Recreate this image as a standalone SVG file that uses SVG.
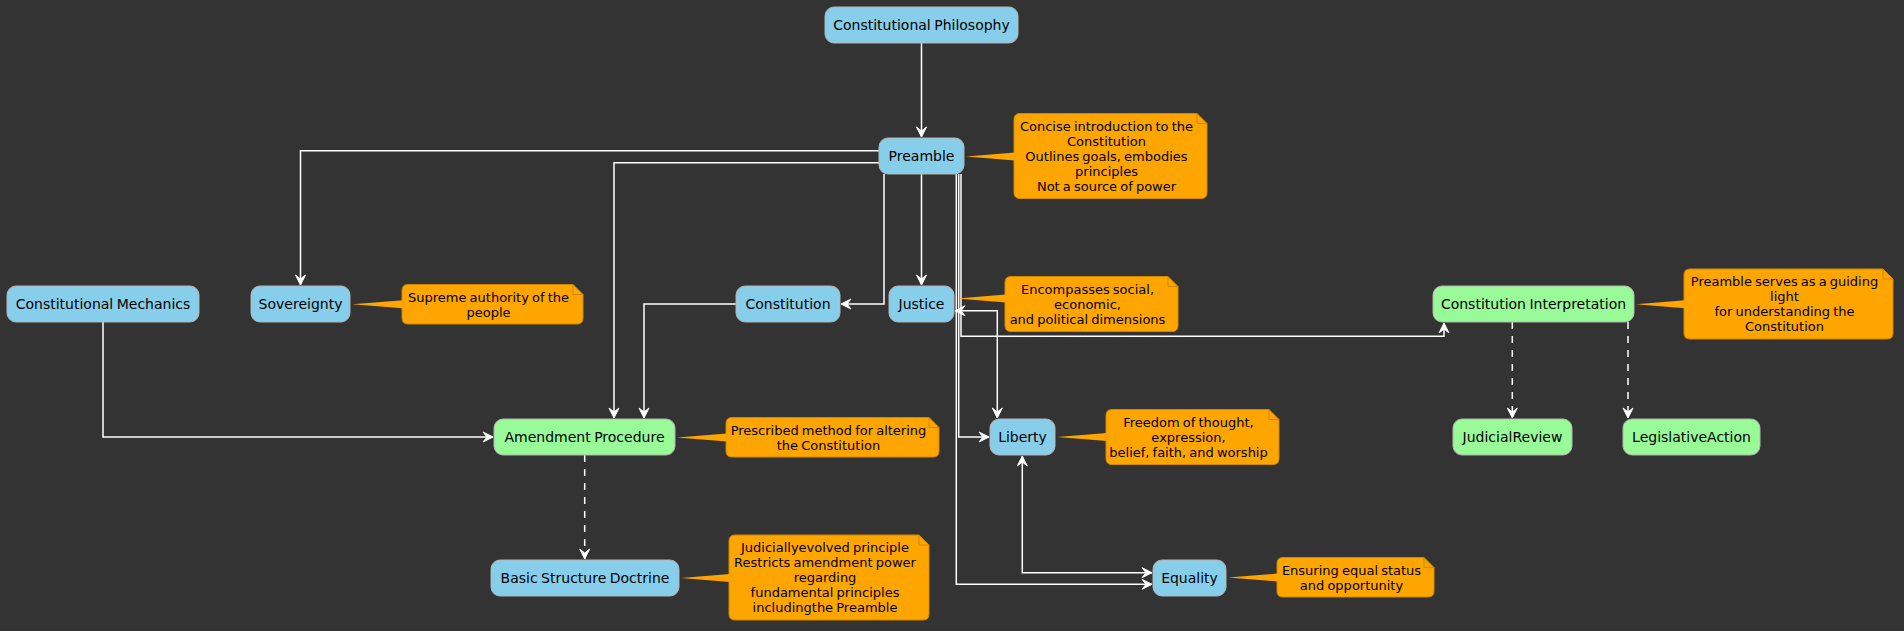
<svg xmlns="http://www.w3.org/2000/svg" width="1904" height="631" viewBox="0 0 1904 631">
<defs>
<style>
.bg{fill:#333333}
.node rect{stroke:#b4b4b4;stroke-width:1}
.blue{fill:#87CEEB}
.green{fill:#98FB98}
.node text{font-family:"DejaVu Sans","Liberation Sans",sans-serif;font-size:14px;fill:#000;text-anchor:middle;word-spacing:-1px}
.note path{fill:#FFA500;stroke:#d08800;stroke-width:1}
.note path.fold{fill:none}
.note polygon{fill:#FFA500;stroke:none}
.note text{font-family:"DejaVu Sans","Liberation Sans",sans-serif;font-size:13px;fill:#000;text-anchor:middle;word-spacing:-1px}
.edge{fill:none;stroke:#ffffff;stroke-width:1.5}
.dash{stroke-dasharray:7,7}
</style>
<marker id="arr" markerUnits="userSpaceOnUse" markerWidth="14" markerHeight="12" viewBox="-11 -6 12 12" refX="0" refY="0" orient="auto-start-reverse">
<path d="M0,0 L-10,-5 L-6,0 L-10,5 Z" fill="#ffffff" stroke="#ffffff" stroke-width="1" stroke-linejoin="miter"/>
</marker>
</defs>
<rect class="bg" x="0" y="0" width="1904" height="631"/>

<g id="connectors">
<path class="edge" d="M921.5,43 V137" marker-end="url(#arr)"/>
<path class="edge" d="M879,150.7 H300.5 V285" marker-end="url(#arr)"/>
<path class="edge" d="M879,162.7 H614 V418" marker-end="url(#arr)"/>
<path class="edge" d="M884,174 V304 H841" marker-end="url(#arr)"/>
<path class="edge" d="M921.5,174 V285" marker-end="url(#arr)"/>
<path class="edge" d="M958.7,174 V437 H989" marker-end="url(#arr)"/>
<path class="edge" d="M956.3,174 V584.3 H1152" marker-end="url(#arr)"/>
<path class="edge" d="M961,174 V336.3 H1444 V323" marker-end="url(#arr)"/>
<path class="edge" d="M955,310.7 H997.3 V418" marker-start="url(#arr)" marker-end="url(#arr)"/>
<path class="edge" d="M1022.3,456 V572.7 H1152" marker-start="url(#arr)" marker-end="url(#arr)"/>
<path class="edge" d="M736,304 H644 V418" marker-end="url(#arr)"/>
<path class="edge" d="M103,322 V437 H493" marker-end="url(#arr)"/>
<path class="edge dash" d="M584.7,455 V559" marker-end="url(#arr)"/>
<path class="edge dash" d="M1512.3,322 V418" marker-end="url(#arr)"/>
<path class="edge dash" d="M1628,322 V418" marker-end="url(#arr)"/>
</g>

<g id="node-constitutional-philosophy" class="node"><rect class="blue" x="825" y="7" width="193" height="36" rx="9"/><text x="921.5" y="30">Constitutional Philosophy</text></g>
<g id="node-preamble" class="node"><rect class="blue" x="879" y="138" width="85" height="36" rx="9"/><text x="921.5" y="161">Preamble</text></g>
<g id="node-constitutional-mechanics" class="node"><rect class="blue" x="7" y="286" width="192" height="36" rx="9"/><text x="103" y="309">Constitutional Mechanics</text></g>
<g id="node-sovereignty" class="node"><rect class="blue" x="251" y="286" width="99" height="36" rx="9"/><text x="300.5" y="309">Sovereignty</text></g>
<g id="node-constitution" class="node"><rect class="blue" x="736" y="286" width="104" height="36" rx="9"/><text x="788" y="309">Constitution</text></g>
<g id="node-justice" class="node"><rect class="blue" x="889" y="286" width="65" height="36" rx="9"/><text x="921.5" y="309">Justice</text></g>
<g id="node-constitution-interpretation" class="node"><rect class="green" x="1433" y="286" width="201" height="36" rx="9"/><text x="1533.5" y="309">Constitution Interpretation</text></g>
<g id="node-amendment-procedure" class="node"><rect class="green" x="494" y="419" width="181" height="36" rx="9"/><text x="584.5" y="442">Amendment Procedure</text></g>
<g id="node-liberty" class="node"><rect class="blue" x="990" y="419" width="65" height="36" rx="9"/><text x="1022.5" y="442">Liberty</text></g>
<g id="node-judicial-review" class="node"><rect class="green" x="1453" y="419" width="119" height="36" rx="9"/><text x="1512.5" y="442">JudicialReview</text></g>
<g id="node-legislative-action" class="node"><rect class="green" x="1623" y="419" width="137" height="36" rx="9"/><text x="1691.5" y="442">LegislativeAction</text></g>
<g id="node-basic-structure-doctrine" class="node"><rect class="blue" x="491" y="560" width="188" height="36" rx="9"/><text x="585" y="583">Basic Structure Doctrine</text></g>
<g id="node-equality" class="node"><rect class="blue" x="1153" y="560" width="73" height="36" rx="9"/><text x="1189.5" y="583">Equality</text></g>

<g id="note-preamble" class="note">
<path d="M1020,113.5 H1197 L1207,123.5 V192.5 Q1207,198.5 1201,198.5 H1020 Q1014,198.5 1014,192.5 V119.5 Q1014,113.5 1020,113.5 Z"/>
<polygon points="966,156.5 1014.8,152.5 1014.8,160.5"/>
<path class="fold" d="M1197,113.5 V123.5 H1207"/>
<text x="1106.5" y="130.5">Concise introduction to the</text>
<text x="1106.5" y="145.5">Constitution</text>
<text x="1106.5" y="160.5">Outlines goals, embodies</text>
<text x="1106.5" y="175.5">principles</text>
<text x="1106.5" y="190.5">Not a source of power</text>
</g>
<g id="note-sovereignty" class="note">
<path d="M408,284.5 H573 L583,294.5 V318 Q583,324 577,324 H408 Q402,324 402,318 V290.5 Q402,284.5 408,284.5 Z"/>
<polygon points="352,304.3 402.8,300.3 402.8,308.3"/>
<path class="fold" d="M573,284.5 V294.5 H583"/>
<text x="488.5" y="301.5">Supreme authority of the</text>
<text x="488.5" y="316.5">people</text>
</g>
<g id="note-justice" class="note">
<path d="M1011,276.5 H1168 L1178,286.5 V325.5 Q1178,331.5 1172,331.5 H1011 Q1005,331.5 1005,325.5 V282.5 Q1005,276.5 1011,276.5 Z"/>
<polygon points="957,298.5 1005.8,294.5 1005.8,302.5"/>
<path class="fold" d="M1168,276.5 V286.5 H1178"/>
<text x="1087.5" y="293.5">Encompasses social,</text>
<text x="1087.5" y="308.5">economic,</text>
<text x="1087.5" y="323.5">and political dimensions</text>
</g>
<g id="note-constitution-interpretation" class="note">
<path d="M1690,269 H1883 L1893,279 V333 Q1893,339 1887,339 H1690 Q1684,339 1684,333 V275 Q1684,269 1690,269 Z"/>
<polygon points="1636,304.3 1684.8,300.3 1684.8,308.3"/>
<path class="fold" d="M1883,269 V279 H1893"/>
<text x="1784.5" y="286">Preamble serves as a guiding</text>
<text x="1784.5" y="301">light</text>
<text x="1784.5" y="316">for understanding the</text>
<text x="1784.5" y="331">Constitution</text>
</g>
<g id="note-amendment-procedure" class="note">
<path d="M732,417.5 H929 L939,427.5 V451 Q939,457 933,457 H732 Q726,457 726,451 V423.5 Q726,417.5 732,417.5 Z"/>
<polygon points="677,437.5 726.8,433.5 726.8,441.5"/>
<path class="fold" d="M929,417.5 V427.5 H939"/>
<text x="828.5" y="434.5">Prescribed method for altering</text>
<text x="828.5" y="449.5">the Constitution</text>
</g>
<g id="note-liberty" class="note">
<path d="M1112,409.5 H1269 L1279,419.5 V458.5 Q1279,464.5 1273,464.5 H1112 Q1106,464.5 1106,458.5 V415.5 Q1106,409.5 1112,409.5 Z"/>
<polygon points="1057,437 1106.8,433 1106.8,441"/>
<path class="fold" d="M1269,409.5 V419.5 H1279"/>
<text x="1188.5" y="426.5">Freedom of thought,</text>
<text x="1188.5" y="441.5">expression,</text>
<text x="1188.5" y="456.5">belief, faith, and worship</text>
</g>
<g id="note-basic-structure-doctrine" class="note">
<path d="M735,535 H919 L929,545 V614 Q929,620 923,620 H735 Q729,620 729,614 V541 Q729,535 735,535 Z"/>
<polygon points="681,578 729.8,574 729.8,582"/>
<path class="fold" d="M919,535 V545 H929"/>
<text x="825" y="552">Judiciallyevolved principle</text>
<text x="825" y="567">Restricts amendment power</text>
<text x="825" y="582">regarding</text>
<text x="825" y="597">fundamental principles</text>
<text x="825" y="612">includingthe Preamble</text>
</g>
<g id="note-equality" class="note">
<path d="M1283,557.5 H1424 L1434,567.5 V591 Q1434,597 1428,597 H1283 Q1277,597 1277,591 V563.5 Q1277,557.5 1283,557.5 Z"/>
<polygon points="1228,577.5 1277.8,573.5 1277.8,581.5"/>
<path class="fold" d="M1424,557.5 V567.5 H1434"/>
<text x="1351.5" y="574.5">Ensuring equal status</text>
<text x="1351.5" y="589.5">and opportunity</text>
</g>
</svg>
